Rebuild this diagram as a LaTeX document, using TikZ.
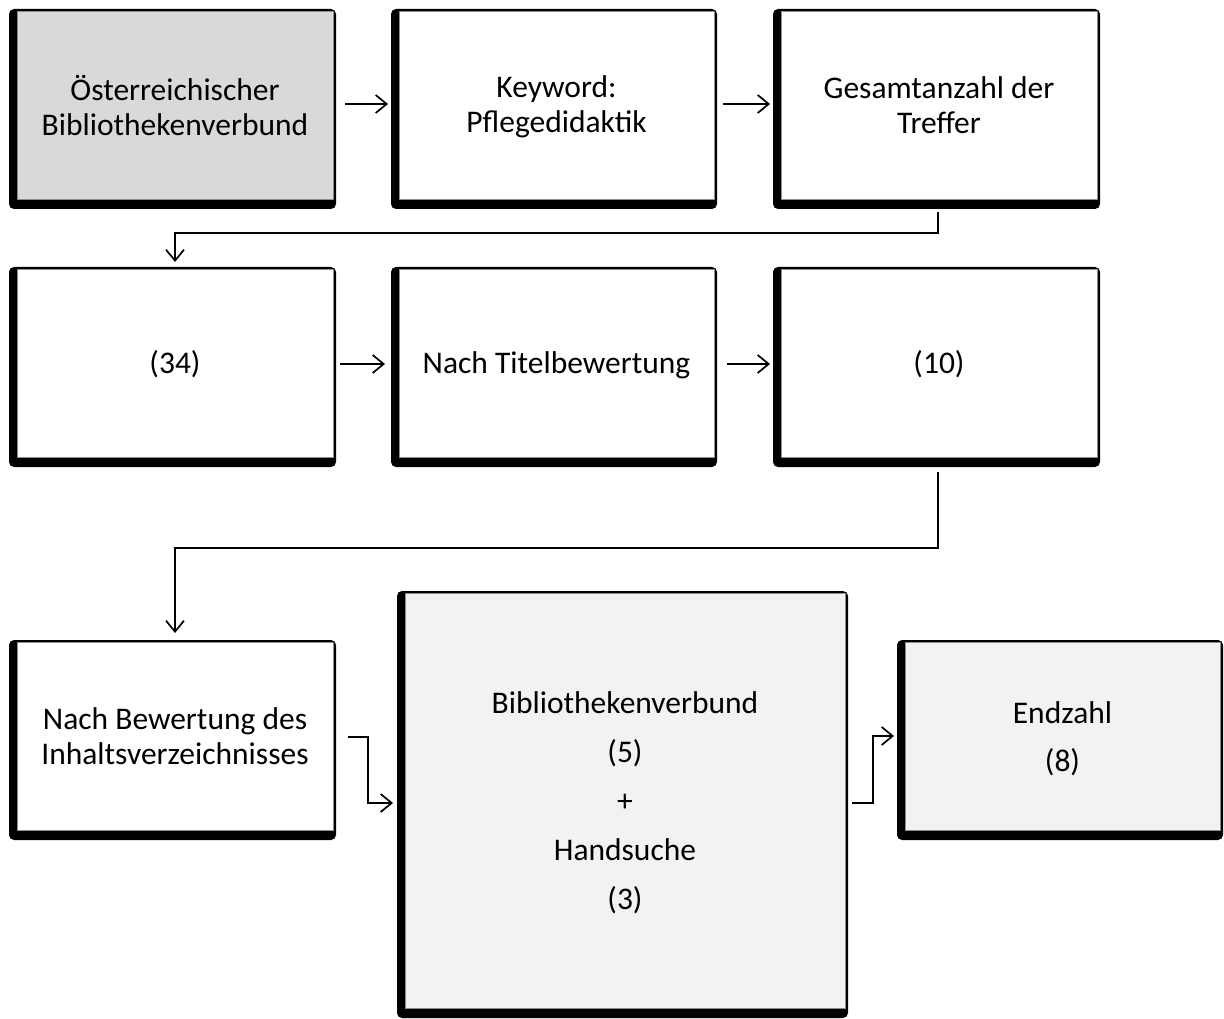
\documentclass[tikz,border=0pt]{standalone}
\usepackage{fontspec}
\setmainfont{Carlito}
\usetikzlibrary{arrows.meta,calc}
\definecolor{boxgray}{HTML}{D9D9D9}
\definecolor{boxlight}{HTML}{F2F2F2}
\tikzset{
  fbox/.style={rectangle, inner sep=0pt, outer sep=0pt, fill=black, rounded corners=5pt,
    path picture={\filldraw[fill=#1, draw=black!45, line width=0.8pt, sharp corners]
      ([xshift=8.5pt,yshift=-2.5pt]path picture bounding box.north west) rectangle
      ([xshift=-3pt,yshift=10pt]path picture bounding box.south east);}},
  fbox/.default=white,
  txt/.style={align=center, inner sep=0pt, font=\fontsize{31.5}{35}\selectfont},
  txtwide/.style={align=center, inner sep=0pt, font=\fontsize{31.5}{49}\selectfont},
  arr/.style={line width=1.7pt, -{Straight Barb[length=11pt,width=18pt,line width=1.7pt]}},
}
\begin{document}
\begin{tikzpicture}[x=1pt,y=-1pt]
\useasboundingbox (0,0) rectangle (1224,1019);
% row 1
\node[fbox=boxgray, minimum width=327pt, minimum height=200pt] (a) at (172.5,109) {};
\node[fbox, minimum width=326pt, minimum height=200pt] (b) at (554,109) {};
\node[fbox, minimum width=327pt, minimum height=200pt] (c) at (936.5,109) {};
% row 2
\node[fbox, minimum width=327pt, minimum height=200pt] (d) at (172.5,367) {};
\node[fbox, minimum width=326pt, minimum height=200pt] (e) at (554,367) {};
\node[fbox, minimum width=327pt, minimum height=200pt] (f) at (936.5,367) {};
% row 3
\node[fbox, minimum width=327pt, minimum height=200pt] (g) at (172.5,740) {};
\node[fbox=boxlight, minimum width=451pt, minimum height=427pt] (h) at (622.5,804.5) {};
\node[fbox=boxlight, minimum width=326pt, minimum height=200pt] (i) at (1060,740) {};
% texts
\node[txt] (aT) at ($(a.center)+(2.5,-4)$) {Österreichischer\\Bibliothekenverbund};
\node[txt] (bT) at ($(b.center)+(2.5,-2)$) {Keyword:\\Pflegedidaktik};
\node[txt] (cT) at ($(c.center)+(2.5,-4)$) {Gesamtanzahl der\\Treffer};
\node[txt] (dT) at ($(d.center)+(2.5,-3)$) {(34)};
\node[txt] (eT) at ($(e.center)+(2.5,-2)$) {Nach Titelbewertung};
\node[txt] (fT) at ($(f.center)+(2.5,-3)$) {(10)};
\node[txt] (gT) at ($(g.center)+(2.5,-4)$) {Nach Bewertung des\\Inhaltsverzeichnisses};
\node[txtwide] (hT) at ($(h.center)+(2.5,-2)$) {Bibliothekenverbund\\(5)\\+\\Handsuche\\(3)};
\node[align=center, inner sep=0pt, font=\fontsize{31.5}{48}\selectfont] (iT) at ($(i.center)+(2.5,-1)$) {Endzahl\\(8)};
% connectors
\draw[arr] ($(a.east)+(9,-5)$) -- ($(b.west)+(-3,-5)$);
\draw[arr] ($(b.east)+(6,-5)$) -- ($(c.west)+(-3,-5)$);
\draw[arr] ($(c.south)+(1.5,3)$) -- ++(0,21) -| ($(d.north)+(2.5,-5)$);
\draw[arr] ($(d.east)+(4,-3)$) -- ($(e.west)+(-6,-3)$);
\draw[arr] ($(e.east)+(10,-3)$) -- ($(f.west)+(-3,-3)$);
\draw[arr] ($(f.south)+(1.5,5)$) -- ++(0,76) -| ($(g.north)+(2.5,-7)$);
\draw[arr] ($(g.east)+(12,-3)$) -| ($(h.west)+(-29,-1.5)$) -- ($(h.west)+(-4,-1.5)$);
\draw[arr] ($(h.east)+(4,-1.5)$) -- ++(21,0) |- ($(i.west)+(-3,-4)$);
\end{tikzpicture}
\end{document}
